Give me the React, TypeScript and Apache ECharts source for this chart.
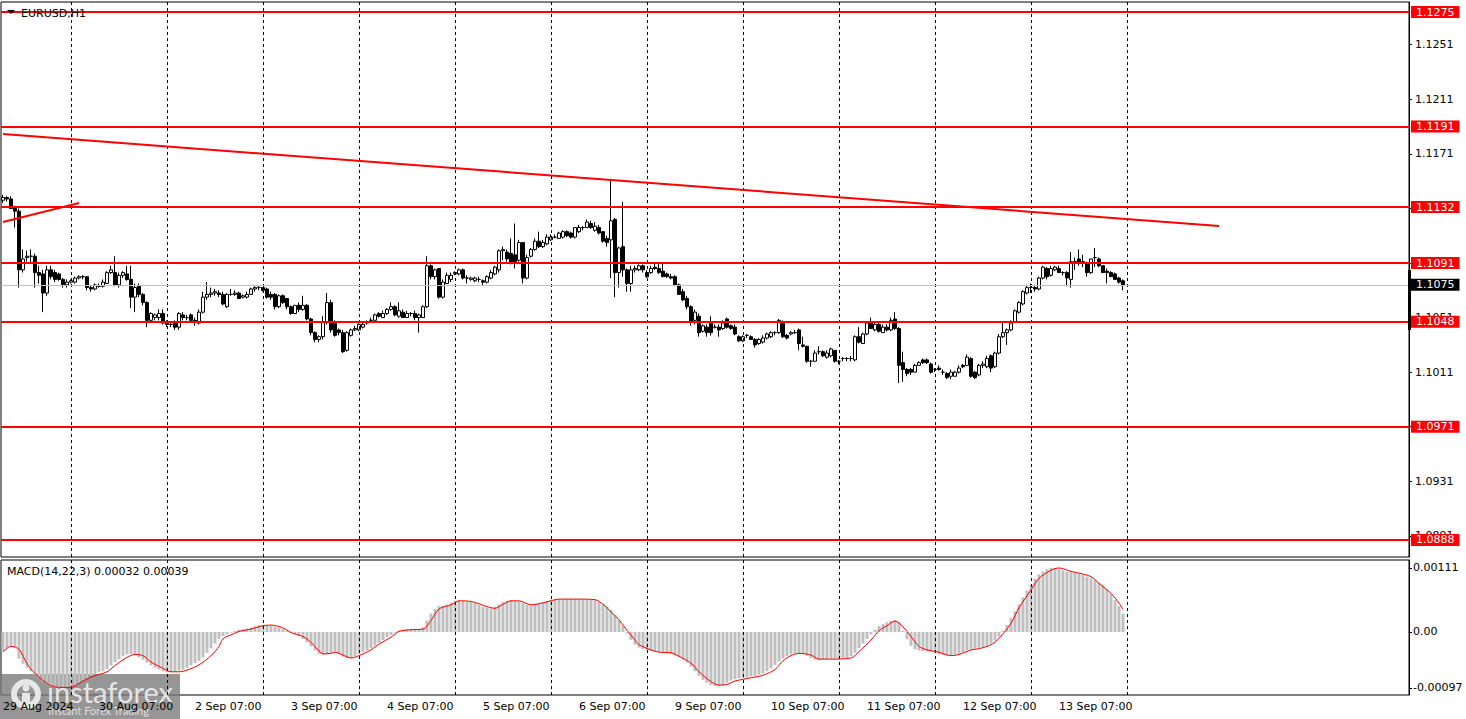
import React, { useEffect, useRef } from "react";
import * as echarts from "echarts";

// ---- categories (hourly candles, MT4 server time) ----
const days = ["29 Aug", "30 Aug", "2 Sep", "3 Sep", "4 Sep", "5 Sep", "6 Sep", "9 Sep", "10 Sep", "11 Sep", "12 Sep", "13 Sep"];
const firstYear = "2024";
const firstHour = 7;
const futureSlots = 71;

// ---- EURUSD H1 OHLC ----
const opens = [
  1.1137,1.1139,1.1138,1.1131,1.1129,1.1086,1.1095,1.1096,1.1096,1.1084,
  1.1083,1.1069,1.1086,1.1084,1.1083,1.1079,1.1075,1.1077,1.1077,1.1080,
  1.1081,1.1081,1.1073,1.1072,1.1074,1.1074,1.1076,1.1084,1.1084,1.1075,
  1.1082,1.1083,1.1079,1.1066,1.1074,1.1068,1.1062,1.1049,1.1051,1.1051,
  1.1054,1.1048,1.1046,1.1047,1.1044,1.1053,1.1051,1.1053,1.1049,1.1047,
  1.1055,1.1066,1.1068,1.1069,1.1069,1.1068,1.1059,1.1068,1.1068,1.1069,
  1.1066,1.1066,1.1068,1.1072,1.1073,1.1073,1.1072,1.1068,1.1068,1.1059,
  1.1067,1.1065,1.1059,1.1054,1.1060,1.1057,1.1060,1.1050,1.1040,1.1035,
  1.1037,1.1048,1.1062,1.1047,1.1042,1.1040,1.1027,1.1038,1.1042,1.1042,
  1.1044,1.1047,1.1049,1.1049,1.1054,1.1051,1.1054,1.1057,1.1059,1.1052,
  1.1055,1.1051,1.1054,1.1054,1.1051,1.1051,1.1059,1.1089,1.1081,1.1087,
  1.1066,1.1076,1.1079,1.1083,1.1083,1.1086,1.1080,1.1079,1.1078,1.1079,
  1.1078,1.1077,1.1080,1.1083,1.1086,1.1100,1.1099,1.1098,1.1097,1.1093,
  1.1106,1.1080,1.1096,1.1101,1.1107,1.1103,1.1105,1.1108,1.1110,1.1109,
  1.1110,1.1114,1.1113,1.1110,1.1114,1.1117,1.1117,1.1120,1.1115,1.1117,
  1.1114,1.1109,1.1108,1.1123,1.1084,1.1103,1.1086,1.1076,1.1086,1.1086,
  1.1089,1.1084,1.1084,1.1088,1.1087,1.1085,1.1083,1.1081,1.1081,1.1075,
  1.1070,1.1065,1.1059,1.1049,1.1052,1.1041,1.1044,1.1047,1.1044,1.1044,
  1.1043,1.1050,1.1045,1.1044,1.1037,1.1034,1.1038,1.1037,1.1035,1.1032,
  1.1033,1.1036,1.1037,1.1040,1.1040,1.1047,1.1038,1.1039,1.1040,1.1042,
  1.1031,1.1030,1.1019,1.1019,1.1026,1.1026,1.1022,1.1023,1.1027,1.1019,
  1.1021,1.1021,1.1021,1.1020,1.1037,1.1032,1.1039,1.1047,1.1042,1.1046,
  1.1040,1.1044,1.1042,1.1050,1.1043,1.1018,1.1013,1.1013,1.1011,1.1016,
  1.1020,1.1020,1.1017,1.1013,1.1014,1.1011,1.1010,1.1008,1.1008,1.1011,
  1.1016,1.1016,1.1021,1.1011,1.1009,1.1016,1.1015,1.1023,1.1015,1.1025,
  1.1037,1.1040,1.1042,1.1048,1.1055,1.1061,1.1069,1.1073,1.1073,1.1072,
  1.1080,1.1087,1.1082,1.1086,1.1087,1.1084,1.1084,1.1079,1.1092,1.1094,
  1.1092,1.1091,1.1084,1.1095,1.1094,1.1089,1.1085,1.1084,1.1083,1.1080,1.1078,
];
const highs = [
  1.1141,1.1140,1.1140,1.1133,1.1131,1.1101,1.1100,1.1101,1.1098,1.1089,
  1.1086,1.1089,1.1089,1.1086,1.1084,1.1080,1.1079,1.1079,1.1081,1.1082,
  1.1082,1.1081,1.1075,1.1076,1.1076,1.1079,1.1085,1.1089,1.1096,1.1084,
  1.1085,1.1089,1.1089,1.1076,1.1076,1.1069,1.1063,1.1055,1.1054,1.1057,
  1.1057,1.1049,1.1048,1.1049,1.1055,1.1055,1.1053,1.1054,1.1051,1.1057,
  1.1070,1.1077,1.1073,1.1072,1.1071,1.1070,1.1069,1.1072,1.1071,1.1070,
  1.1068,1.1070,1.1073,1.1074,1.1074,1.1073,1.1073,1.1070,1.1069,1.1068,
  1.1068,1.1065,1.1060,1.1060,1.1062,1.1067,1.1061,1.1051,1.1041,1.1038,
  1.1052,1.1069,1.1064,1.1049,1.1043,1.1042,1.1041,1.1043,1.1045,1.1047,
  1.1048,1.1049,1.1051,1.1054,1.1055,1.1056,1.1058,1.1062,1.1060,1.1062,
  1.1057,1.1056,1.1055,1.1056,1.1054,1.1060,1.1096,1.1090,1.1087,1.1087,
  1.1079,1.1084,1.1084,1.1085,1.1087,1.1087,1.1082,1.1081,1.1081,1.1081,
  1.1079,1.1082,1.1086,1.1089,1.1101,1.1103,1.1101,1.1109,1.1120,1.1108,
  1.1106,1.1097,1.1102,1.1109,1.1114,1.1108,1.1112,1.1112,1.1112,1.1114,
  1.1115,1.1115,1.1114,1.1117,1.1119,1.1118,1.1123,1.1122,1.1121,1.1119,
  1.1114,1.1111,1.1152,1.1124,1.1103,1.1136,1.1087,1.1089,1.1089,1.1090,
  1.1090,1.1086,1.1089,1.1091,1.1091,1.1091,1.1084,1.1083,1.1082,1.1076,
  1.1072,1.1067,1.1060,1.1057,1.1054,1.1046,1.1046,1.1052,1.1046,1.1046,
  1.1049,1.1051,1.1046,1.1046,1.1038,1.1038,1.1039,1.1038,1.1036,1.1036,
  1.1038,1.1040,1.1041,1.1041,1.1050,1.1049,1.1039,1.1041,1.1042,1.1043,
  1.1037,1.1030,1.1020,1.1027,1.1030,1.1027,1.1027,1.1029,1.1027,1.1020,
  1.1022,1.1022,1.1023,1.1038,1.1044,1.1040,1.1048,1.1051,1.1047,1.1047,
  1.1046,1.1046,1.1051,1.1055,1.1044,1.1026,1.1014,1.1014,1.1017,1.1019,
  1.1021,1.1021,1.1018,1.1014,1.1016,1.1013,1.1011,1.1013,1.1012,1.1016,
  1.1017,1.1024,1.1022,1.1012,1.1017,1.1019,1.1023,1.1024,1.1026,1.1039,
  1.1047,1.1043,1.1049,1.1057,1.1063,1.1071,1.1075,1.1076,1.1075,1.1081,
  1.1089,1.1088,1.1089,1.1089,1.1089,1.1085,1.1085,1.1099,1.1095,1.1101,
  1.1097,1.1092,1.1094,1.1102,1.1095,1.1089,1.1087,1.1085,1.1084,1.1081,1.1079,
];
const lows = [
  1.1135,1.1136,1.1131,1.1117,1.1073,1.1084,1.1092,1.1091,1.1073,1.1076,
  1.1055,1.1067,1.1079,1.1077,1.1078,1.1073,1.1073,1.1076,1.1076,1.1079,
  1.1079,1.1071,1.1070,1.1071,1.1073,1.1073,1.1076,1.1083,1.1074,1.1073,
  1.1080,1.1078,1.1058,1.1055,1.1066,1.1060,1.1044,1.1048,1.1049,1.1049,
  1.1046,1.1044,1.1044,1.1042,1.1042,1.1049,1.1049,1.1048,1.1045,1.1046,
  1.1054,1.1064,1.1066,1.1067,1.1066,1.1060,1.1058,1.1067,1.1067,1.1065,
  1.1065,1.1065,1.1068,1.1070,1.1071,1.1070,1.1065,1.1064,1.1057,1.1058,
  1.1061,1.1057,1.1053,1.1054,1.1055,1.1056,1.1049,1.1038,1.1033,1.1033,
  1.1035,1.1046,1.1040,1.1037,1.1038,1.1025,1.1026,1.1037,1.1041,1.1041,
  1.1043,1.1046,1.1048,1.1049,1.1051,1.1051,1.1053,1.1056,1.1052,1.1051,
  1.1051,1.1051,1.1052,1.1049,1.1040,1.1051,1.1058,1.1079,1.1079,1.1065,
  1.1065,1.1076,1.1077,1.1082,1.1082,1.1079,1.1076,1.1078,1.1077,1.1077,
  1.1075,1.1076,1.1079,1.1082,1.1084,1.1093,1.1092,1.1090,1.1087,1.1092,
  1.1076,1.1079,1.1095,1.1100,1.1102,1.1102,1.1104,1.1107,1.1109,1.1109,
  1.1109,1.1110,1.1109,1.1109,1.1113,1.1115,1.1117,1.1116,1.1114,1.1112,
  1.1106,1.1103,1.1080,1.1066,1.1073,1.1081,1.1070,1.1070,1.1084,1.1085,
  1.1084,1.1080,1.1083,1.1086,1.1083,1.1081,1.1080,1.1079,1.1074,1.1068,
  1.1063,1.1057,1.1045,1.1046,1.1037,1.1040,1.1037,1.1038,1.1043,1.1037,
  1.1042,1.1043,1.1042,1.1038,1.1033,1.1033,1.1036,1.1035,1.1029,1.1031,
  1.1032,1.1035,1.1036,1.1038,1.1039,1.1036,1.1035,1.1038,1.1039,1.1027,
  1.1029,1.1018,1.1015,1.1019,1.1024,1.1022,1.1021,1.1022,1.1018,1.1017,
  1.1019,1.1019,1.1019,1.1019,1.1032,1.1032,1.1038,1.1043,1.1041,1.1040,
  1.1040,1.1041,1.1041,1.1042,1.1003,1.1004,1.1008,1.1009,1.1011,1.1016,
  1.1017,1.1017,1.1010,1.1011,1.1012,1.1009,1.1006,1.1006,1.1008,1.1010,
  1.1014,1.1016,1.1007,1.1006,1.1008,1.1014,1.1014,1.1011,1.1014,1.1024,
  1.1036,1.1031,1.1041,1.1047,1.1054,1.1060,1.1068,1.1069,1.1070,1.1071,
  1.1079,1.1079,1.1081,1.1085,1.1084,1.1082,1.1074,1.1073,1.1086,1.1089,
  1.1088,1.1081,1.1083,1.1088,1.1088,1.1084,1.1076,1.1081,1.1079,1.1076,1.1071,
];
const closes = [
  1.1139,1.1138,1.1131,1.1129,1.1086,1.1094,1.1096,1.1096,1.1084,1.1082,
  1.1069,1.1086,1.1081,1.1079,1.1079,1.1075,1.1077,1.1078,1.1080,1.1081,
  1.1081,1.1073,1.1072,1.1075,1.1074,1.1077,1.1084,1.1086,1.1075,1.1082,
  1.1084,1.1079,1.1066,1.1073,1.1068,1.1062,1.1049,1.1054,1.1053,1.1054,
  1.1047,1.1046,1.1046,1.1044,1.1054,1.1051,1.1051,1.1049,1.1048,1.1055,
  1.1066,1.1068,1.1069,1.1070,1.1068,1.1061,1.1068,1.1068,1.1069,1.1065,
  1.1067,1.1068,1.1072,1.1073,1.1073,1.1071,1.1066,1.1066,1.1059,1.1067,
  1.1062,1.1059,1.1054,1.1060,1.1057,1.1060,1.1050,1.1040,1.1035,1.1037,
  1.1048,1.1062,1.1042,1.1038,1.1040,1.1026,1.1040,1.1042,1.1043,1.1046,
  1.1046,1.1048,1.1049,1.1053,1.1052,1.1054,1.1057,1.1059,1.1053,1.1056,
  1.1051,1.1054,1.1054,1.1051,1.1053,1.1059,1.1089,1.1081,1.1086,1.1066,
  1.1077,1.1082,1.1082,1.1084,1.1086,1.1080,1.1080,1.1080,1.1080,1.1079,
  1.1077,1.1081,1.1084,1.1088,1.1100,1.1101,1.1094,1.1092,1.1092,1.1106,
  1.1080,1.1095,1.1101,1.1107,1.1103,1.1106,1.1110,1.1110,1.1110,1.1113,
  1.1114,1.1111,1.1110,1.1117,1.1117,1.1117,1.1121,1.1117,1.1118,1.1113,
  1.1107,1.1106,1.1122,1.1084,1.1102,1.1086,1.1076,1.1086,1.1087,1.1089,
  1.1086,1.1081,1.1087,1.1087,1.1084,1.1081,1.1081,1.1080,1.1075,1.1068,
  1.1064,1.1059,1.1048,1.1055,1.1040,1.1045,1.1040,1.1040,1.1044,1.1042,
  1.1047,1.1044,1.1043,1.1039,1.1034,1.1037,1.1038,1.1035,1.1031,1.1035,
  1.1036,1.1039,1.1040,1.1040,1.1049,1.1037,1.1036,1.1040,1.1040,1.1032,
  1.1030,1.1019,1.1019,1.1025,1.1026,1.1023,1.1025,1.1028,1.1019,1.1019,
  1.1021,1.1021,1.1021,1.1037,1.1033,1.1039,1.1047,1.1043,1.1046,1.1041,
  1.1044,1.1042,1.1049,1.1043,1.1016,1.1013,1.1010,1.1011,1.1016,1.1018,
  1.1018,1.1018,1.1011,1.1013,1.1013,1.1011,1.1007,1.1011,1.1011,1.1014,
  1.1015,1.1022,1.1008,1.1007,1.1016,1.1017,1.1021,1.1014,1.1025,1.1037,
  1.1040,1.1042,1.1047,1.1056,1.1062,1.1070,1.1073,1.1073,1.1072,1.1080,
  1.1088,1.1081,1.1087,1.1088,1.1084,1.1084,1.1080,1.1092,1.1092,1.1091,
  1.1092,1.1084,1.1094,1.1095,1.1089,1.1084,1.1084,1.1081,1.1079,1.1077,1.1075,
];

// ---- MACD(14,22,3), main line (histogram) in units of 0.00001 ----
const macdMainE5 = [
  -34,-28,-24,-26,-46,-55,-62,-68,-74,-80,
  -86,-90,-94,-96,-97,-97,-96,-95,-92,-88,
  -84,-80,-76,-73,-70,-68,-64,-58,-52,-47,
  -42,-39,-38,-40,-44,-48,-53,-58,-62,-65,
  -68,-70,-70,-69,-67,-65,-62,-58,-54,-50,
  -44,-36,-28,-20,-12,-7,-4,-1,2,4,
  5,6,8,10,12,12,12,11,9,7,
  5,2,-1,-4,-7,-12,-18,-25,-32,-38,
  -39,-38,-36,-34,-38,-43,-46,-45,-42,-38,
  -35,-32,-28,-24,-19,-14,-9,-5,-1,2,
  4,5,5,5,5,8,20,32,40,45,
  46,48,51,54,55,54,53,52,50,47,
  44,42,41,44,48,52,54,55,54,53,
  50,47,46,48,50,52,54,56,57,57,
  57,57,57,57,57,57,57,56,55,52,
  48,44,38,30,20,10,-2,-14,-22,-27,
  -30,-32,-33,-34,-35,-36,-36,-38,-41,-44,
  -48,-53,-60,-68,-76,-83,-88,-92,-94,-94,
  -92,-88,-84,-82,-80,-80,-79,-77,-76,-74,
  -72,-68,-63,-57,-51,-46,-42,-39,-37,-37,
  -38,-41,-45,-48,-49,-48,-47,-46,-46,-46,
  -46,-45,-42,-36,-28,-20,-12,-4,4,10,
  14,17,19,20,17,2,-12,-24,-30,-32,
  -33,-34,-35,-37,-39,-40,-41,-40,-39,-38,
  -35,-32,-30,-29,-28,-26,-24,-20,-15,-8,
  2,12,24,36,48,60,72,82,92,100,
  105,109,111,111,110,107,105,104,103,101,
  99,96,93,90,86,82,74,66,56,45,32,
];
// signal line readings [candle index, value in 0.00001]
const macdSignalE5 = [
  [0,-34],[2,-25],[4,-30],[6,-55],[8,-72],[12,-93],[15,-96],[17,-96],[19,-89],[22,-78],
  [26,-69],[28,-58],[31,-44],[33,-39],[35,-41],[37,-52],[40,-63],[42,-69],[44,-69],[46,-66],
  [49,-57],[52,-41],[54,-25],[55,-12],[57,-5],[59,1],[62,5],[65,11],[67,12],[70,7],
  [72,-1],[75,-8],[77,-18],[79,-33],[80,-38],[82,-37],[83,-35],[85,-40],[87,-45],[89,-41],
  [92,-31],[94,-21],[97,-9],[99,1],[102,4],[105,5],[107,20],[109,40],[112,47],[114,54],
  [117,53],[121,44],[123,41],[125,48],[127,54],[129,54],[132,47],[134,49],[137,54],[139,57],
  [144,57],[148,56],[150,48],[152,35],[154,21],[156,3],[158,-14],[159,-22],[162,-31],[164,-35],
  [167,-36],[169,-42],[172,-54],[174,-69],[177,-86],[179,-92],[181,-91],[183,-85],[185,-82],[188,-78],
  [190,-75],[193,-65],[195,-50],[197,-41],[199,-37],[202,-40],[204,-47],[207,-47],[212,-45],[214,-34],
  [217,-14],[219,2],[221,11],[223,19],[225,9],[227,-8],[229,-25],[231,-31],[234,-35],[237,-41],
  [239,-39],[242,-31],[244,-29],[247,-22],[249,-11],[252,15],[254,42],[257,73],[259,93],[262,107],
  [264,111],[267,105],[269,102],[272,96],[274,84],[277,67],[279,50],[280,39],
];
const macdTitleValues = ["0.00032", "0.00039"];

// ---- levels, trend lines, ticks ----
const levelLines = [1.1275, 1.1191, 1.1132, 1.1091, 1.1048, 1.0971, 1.0888];
const currentPrice = 1.1075;
const trendDown = [[0, 1.11856], [304, 1.11181]];
const trendUp = [[0, 1.11211], [19, 1.1135]];
const priceTicks = [1.0891, 1.0931, 1.0971, 1.1011, 1.1051, 1.1091, 1.1131, 1.1171, 1.1211, 1.1251];
const macdTicks = [0.00111, 0, -0.00097];
const priceMin = 1.087553;
const priceMax = 1.128233;
const macdMin = -0.0010919;
const macdMax = 0.0012478;

const FONT = "DejaVu Sans";

function buildOption() {
  const categories: string[] = [];
  days.forEach((d, di) => {
    for (let h = di === 0 ? firstHour : 0; h < 24; h++) {
      categories.push(`${d} ${String(h).padStart(2, "0")}:00`);
    }
  });
  const nReal = categories.length;
  categories.push("14 Sep 00:00");
  for (let k = 1; k < futureSlots; k++) categories.push(`+${k}`);

  const midnights = categories
    .map((c, i) => (c.endsWith(" 00:00") ? i : -1))
    .filter((i) => i >= 0);

  const candles = opens.map((o, i) => [o, closes[i], lows[i], highs[i]]);
  const macdMain = macdMainE5.map((v) => v / 100000);
  const macdSignal = macdSignalE5.map(([i, v]) => [i, v / 100000]);

  const dashed = { type: [3, 3] as any, color: "#000", width: 1 };
  const vLines = midnights.map((i) => ({ xAxis: i, lineStyle: dashed, label: { show: false } }));

  const boxLabel = (text: string, bg: string) => ({
    show: true,
    position: "end",
    distance: 2,
    formatter: () => text,
    color: "#ffffff",
    backgroundColor: bg,
    padding: [1, 5, 0, 5],
    fontFamily: FONT,
    fontSize: 11,
  });

  const levelItems = levelLines.map((v) => ({
    yAxis: v,
    lineStyle: { color: "#ff0000", width: 2, type: "solid" },
    label: boxLabel(v.toFixed(4), "#ff0000"),
  }));
  const currentItem = {
    yAxis: currentPrice,
    lineStyle: { color: "#c0c0c0", width: 1, type: "solid" },
    label: boxLabel(currentPrice.toFixed(4), "#000000"),
  };
  const trendItem = (pts: number[][]) => [
    { coord: pts[0], lineStyle: { color: "#ff0000", width: 2, type: "solid" }, label: { show: false } },
    { coord: pts[1] },
  ];

  const axisText = { color: "#000", fontFamily: FONT, fontSize: 11 };

  return {
    animation: false,
    backgroundColor: "#ffffff",
    textStyle: { fontFamily: FONT },
    grid: [
      { left: 1, right: 57, top: 2, height: 555, show: true, borderColor: "#000", borderWidth: 1, backgroundColor: "#fff" },
      { left: 1, right: 57, top: 560, height: 135, show: true, borderColor: "#000", borderWidth: 1, backgroundColor: "#fff" },
    ],
    xAxis: [
      {
        type: "category",
        gridIndex: 0,
        data: categories,
        boundaryGap: true,
        axisLine: { show: false },
        axisTick: { show: false },
        axisLabel: { show: false },
        splitLine: { show: false },
      },
      {
        type: "category",
        gridIndex: 1,
        data: categories,
        boundaryGap: true,
        axisLine: { show: false },
        axisTick: { show: false },
        splitLine: { show: false },
        axisLabel: {
          ...axisText,
          align: "left",
          margin: 6,
          interval: (idx: number, val: string) => idx === 0 || (idx < nReal && val.endsWith(" 07:00")),
          formatter: (val: string, idx: number) => (idx === 0 ? `${days[0]} ${firstYear}` : val),
        },
      },
    ],
    yAxis: [
      {
        type: "value",
        gridIndex: 0,
        position: "right",
        min: priceMin,
        max: priceMax,
        axisLine: { show: true, lineStyle: { color: "#000" } },
        axisTick: { show: true, length: 3, lineStyle: { color: "#000" }, customValues: priceTicks },
        splitLine: { show: false },
        axisLabel: { ...axisText, margin: 6, customValues: priceTicks, formatter: (v: number) => v.toFixed(4) },
      },
      {
        type: "value",
        gridIndex: 1,
        position: "right",
        min: macdMin,
        max: macdMax,
        axisLine: { show: true, lineStyle: { color: "#000" } },
        axisTick: { show: true, length: 3, lineStyle: { color: "#000" }, customValues: macdTicks },
        splitLine: { show: false },
        axisLabel: {
          ...axisText,
          margin: 4,
          customValues: macdTicks,
          formatter: (v: number) => (Math.abs(v) < 1e-9 ? "0.00" : v.toFixed(5)),
        },
      },
    ],
    series: [
      {
        type: "candlestick",
        name: "EURUSD,H1",
        xAxisIndex: 0,
        yAxisIndex: 0,
        data: candles,
        barWidth: 3,
        itemStyle: {
          color: "#ffffff",
          color0: "#000000",
          borderColor: "#000000",
          borderColor0: "#000000",
          borderColorDoji: "#000000",
          borderWidth: 1,
        },
        markLine: {
          silent: true,
          precision: 6,
          symbol: ["none", "none"],
          animation: false,
          data: [...vLines, currentItem, ...levelItems, trendItem(trendDown), trendItem(trendUp)],
        },
      },
      {
        type: "bar",
        name: "MACD",
        xAxisIndex: 1,
        yAxisIndex: 1,
        data: macdMain,
        barWidth: 3,
        itemStyle: { color: "#c0c0c0" },
        markLine: {
          silent: true,
          precision: 6,
          symbol: ["none", "none"],
          animation: false,
          data: vLines,
        },
      },
      {
        type: "line",
        name: "Signal",
        xAxisIndex: 1,
        yAxisIndex: 1,
        data: macdSignal,
        smooth: 0.3,
        showSymbol: false,
        symbol: "none",
        lineStyle: { color: "#ff0000", width: 1 },
        z: 5,
      },
    ],
    graphic: [
      { type: "polygon", shape: { points: [[7, 10], [15, 10], [11, 14]] }, style: { fill: "#000" }, z: 10 },
      {
        type: "text",
        x: 21,
        y: 13,
        style: { text: "EURUSD,H1", fill: "#000", font: `11px '${FONT}'`, verticalAlign: "middle" },
        z: 10,
      },
      {
        type: "text",
        x: 7,
        y: 571,
        style: {
          text: `MACD(14,22,3) ${macdTitleValues[0]} ${macdTitleValues[1]}`,
          fill: "#000",
          font: `11px '${FONT}'`,
          verticalAlign: "middle",
        },
        z: 10,
      },
      { type: "rect", shape: { x: 1408, y: 270, width: 3, height: 60 }, style: { fill: "#000" }, z: 10 },
      {
        type: "group",
        z: 20,
        children: [
          { type: "rect", shape: { x: 0, y: 674, width: 180, height: 45 }, style: { fill: "rgba(120,120,120,0.78)" } },
          { type: "ring", shape: { cx: 26, cy: 694, r: 15, r0: 9 }, style: { fill: "rgba(235,235,235,0.95)" } },
          { type: "circle", shape: { cx: 26, cy: 688, r: 3.5 }, style: { fill: "rgba(235,235,235,0.95)" } },
          { type: "rect", shape: { x: 22, y: 693, width: 8, height: 15 }, style: { fill: "rgba(235,235,235,0.95)" } },
          {
            type: "text",
            x: 47,
            y: 691,
            style: { text: "instaforex", fill: "rgba(235,235,235,0.95)", font: "29px Lato", verticalAlign: "middle" },
          },
          {
            type: "text",
            x: 48,
            y: 710,
            style: { text: "Instant Forex Trading", fill: "rgba(225,225,225,0.95)", font: "11px Lato", verticalAlign: "middle" },
          },
        ],
      },
    ],
  };
}

export default function App() {
  const ref = useRef<HTMLDivElement>(null);
  useEffect(() => {
    if (!ref.current) return;
    const chart = echarts.init(ref.current, null, { renderer: "svg" });
    chart.setOption(buildOption() as any);
    return () => chart.dispose();
  }, []);
  return <div ref={ref} style={{ position: "fixed", left: 0, top: 0, width: 1466, height: 719 }} />;
}
